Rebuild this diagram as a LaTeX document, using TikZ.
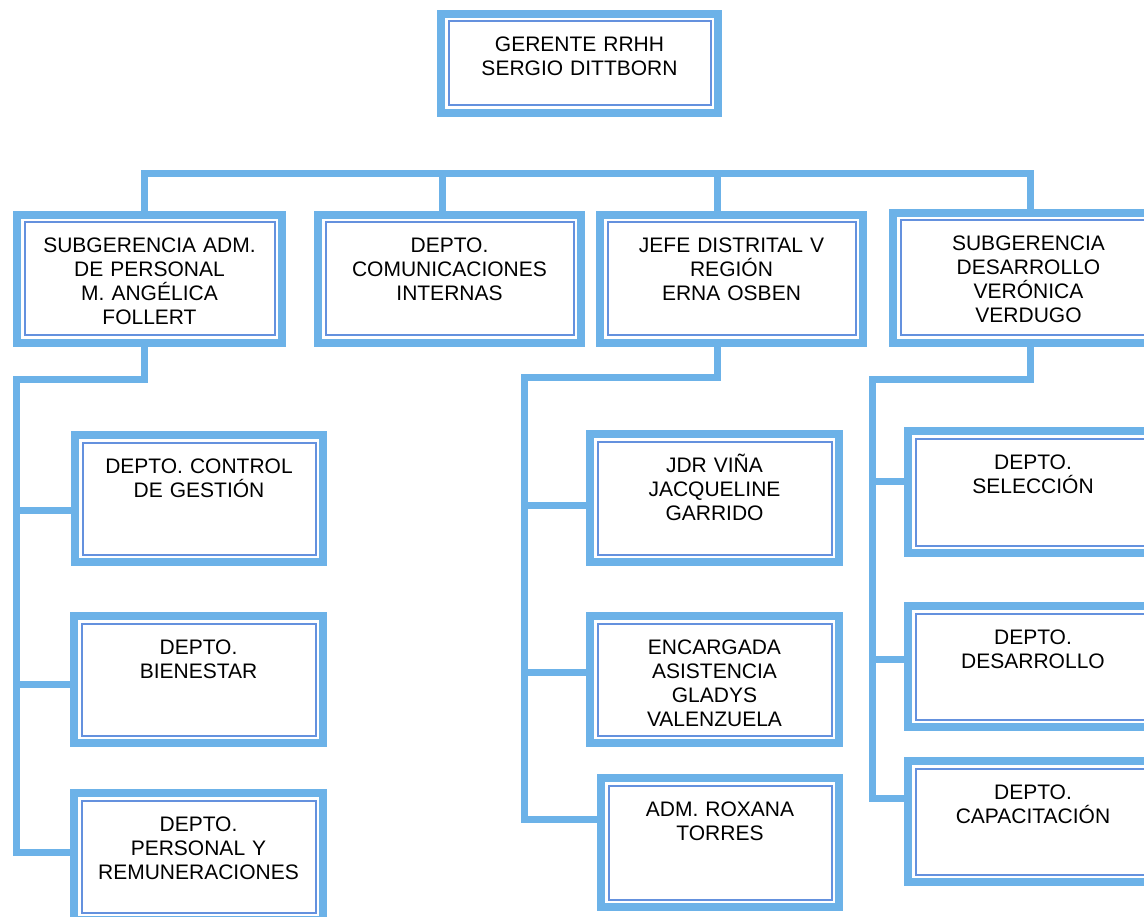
\documentclass[tikz,border=0pt]{standalone}
\usepackage{fontspec}
\setmainfont{Liberation Sans}
\definecolor{bandblue}{RGB}{108,178,232}
\definecolor{lineblue}{RGB}{100,145,222}

\begin{document}
\begin{tikzpicture}[x=1pt, y=-1pt,
		orgbox/.style 2 args={draw=bandblue, line width=8pt, fill=white, anchor=north west,
			inner sep=0pt, text width=#1, text height=38pt, text depth=#2,
			align=center, font=\fontsize{21}{24}\selectfont,
			path picture={\draw[lineblue, line width=2pt]
				([shift={(7.5pt,7.5pt)}]path picture bounding box.south west) rectangle
				([shift={(-7.5pt,-7.5pt)}]path picture bounding box.north east);}},
		link/.style={draw=bandblue, line width=7pt, line join=miter}]
		\useasboundingbox (0,0) rectangle (1144,917);
		\clip (0,0) rectangle (1144,917);

		% gerencia
		\node[orgbox={277pt}{61pt}] (gerente) at (437,10) {GERENTE RRHH\\SERGIO DITTBORN};

		% primer nivel
		\node[orgbox={265pt}{90pt}] (subadm) at (13,211) {SUBGERENCIA ADM.\\DE PERSONAL\\M. ANGÉLICA\\FOLLERT};
		\node[orgbox={263pt}{90pt}] (comunic) at (314,211) {DEPTO.\\COMUNICACIONES\\INTERNAS};
		\node[orgbox={263pt}{90pt}] (jefedist) at (596,211) {JEFE DISTRITAL V\\REGIÓN\\ERNA OSBEN};
		\node[orgbox={271pt}{92pt}] (subdes) at (889,209) {SUBGERENCIA\\DESARROLLO\\VERÓNICA\\VERDUGO};

		% dependencias
		\node[orgbox={248pt}{89pt}] (ctrlgest) at (71,431) {DEPTO. CONTROL\\DE GESTIÓN};
		\node[orgbox={249pt}{89pt}] (bienestar) at (70,612) {DEPTO.\\BIENESTAR};
		\node[orgbox={249pt}{89pt}] (personal) at (70,789) {DEPTO.\\PERSONAL Y\\REMUNERACIONES};

		\node[orgbox={249pt}{90pt}] (jdrvina) at (586,430) {JDR VIÑA\\JACQUELINE\\GARRIDO};
		\node[orgbox={249pt}{89pt}] (encargada) at (586,612) {ENCARGADA\\ASISTENCIA\\GLADYS\\VALENZUELA};
		\node[orgbox={238pt}{91pt}] (admroxana) at (597,774) {ADM. ROXANA\\TORRES};

		\node[orgbox={250pt}{84pt}] (seleccion) at (904,427) {DEPTO.\\SELECCIÓN};
		\node[orgbox={250pt}{83pt}] (desarrollo) at (904,602) {DEPTO.\\DESARROLLO};
		\node[orgbox={250pt}{83pt}] (capacit) at (904,757) {DEPTO.\\CAPACITACIÓN};

		% barra superior
		\draw[link] ([xshift=-5.5pt]subadm.north) -- ++(0,-37) -| ([xshift=1.5pt]subdes.north);
		\draw[link] ([xshift=-7.5pt]comunic.north) -- ++(0,-37);
		\draw[link] ([xshift=-14.5pt]jefedist.north) -- ++(0,-37);

		% ramas
		\coordinate (aspine) at (16.5,380);
		\coordinate (cspine) at (524,378);
		\coordinate (dspine) at (872,380);

		\draw[link] ([xshift=-5.5pt]subadm.south) |- (aspine) |- ([yshift=4.5pt]personal.west);
		\draw[link] (aspine) |- ([yshift=-11.5pt]ctrlgest.west);
		\draw[link] (aspine) |- ([yshift=-4.5pt]bienestar.west);

		\draw[link] ([xshift=-14.5pt]jefedist.south) |- (cspine) |- ([yshift=23.5pt]admroxana.west);
		\draw[link] (cspine) |- ([yshift=-7pt]jdrvina.west);
		\draw[link] (cspine) |- ([yshift=7.5pt]encargada.west);

		\draw[link] ([xshift=1.5pt]subdes.south) |- (dspine) |- ([yshift=23.5pt]capacit.west);
		\draw[link] (dspine) |- ([yshift=11pt]seleccion.west);
		\draw[link] (dspine) |- ([yshift=7.5pt]desarrollo.west);
\end{tikzpicture}
\end{document}
